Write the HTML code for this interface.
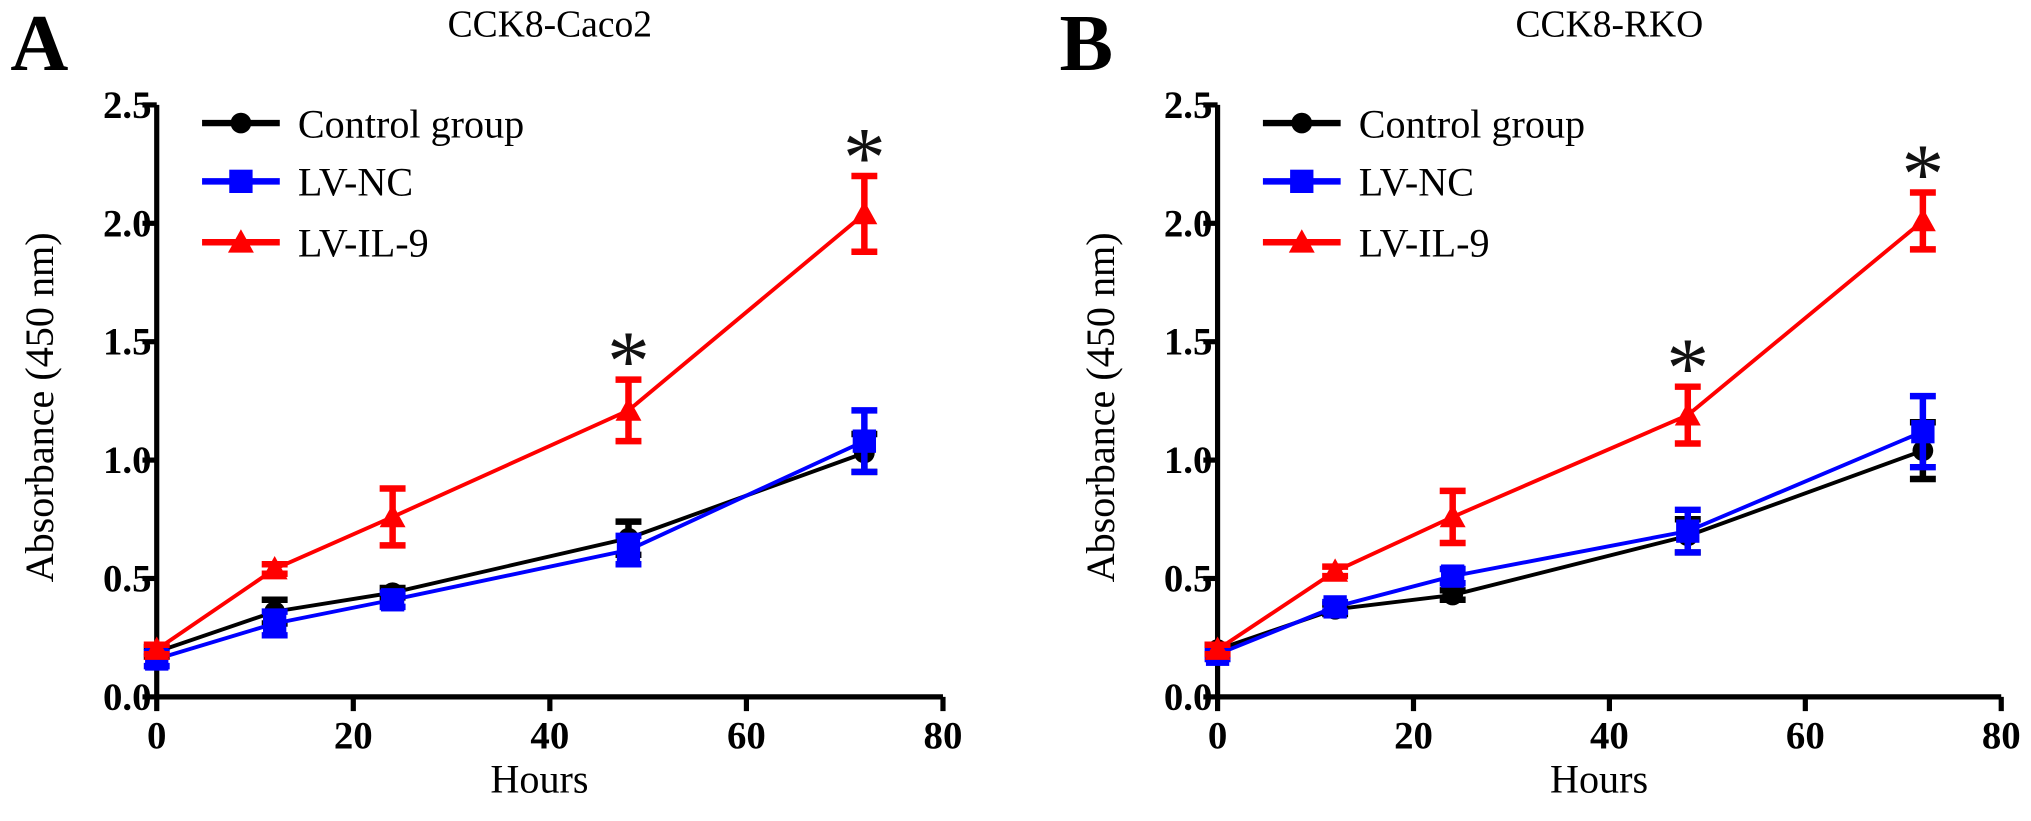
<!DOCTYPE html>
<html><head><meta charset="utf-8"><style>
html,body{margin:0;padding:0;background:#fff;}
svg text{font-family:"Liberation Serif",serif;}
</style></head><body>
<svg id="chart" width="2031" height="816" xmlns="http://www.w3.org/2000/svg"><g id="root" transform="scale(1.2953)"></g></svg>
<script>
const hours = [0, 12, 24, 48, 72];
const xTicks = [0, 20, 40, 60, 80];
const yTicks = [0.0, 0.5, 1.0, 1.5, 2.0, 2.5];
const seriesNames = ["Control group", "LV-NC", "LV-IL-9"];
const aControl = [0.19, 0.36, 0.44, 0.67, 1.03];
const aControlErr = [0.02, 0.05, 0.02, 0.07, 0.08];
const aNC = [0.16, 0.31, 0.41, 0.62, 1.08];
const aNCErr = [0.03, 0.05, 0.03, 0.06, 0.13];
const aIL9 = [0.20, 0.54, 0.76, 1.21, 2.04];
const aIL9Err = [0.02, 0.02, 0.12, 0.13, 0.16];
const bControl = [0.20, 0.37, 0.43, 0.68, 1.04];
const bControlErr = [0.02, 0.02, 0.02, 0.07, 0.12];
const bNC = [0.18, 0.38, 0.51, 0.70, 1.12];
const bNCErr = [0.02, 0.02, 0.03, 0.09, 0.15];
const bIL9 = [0.20, 0.53, 0.76, 1.19, 2.01];
const bIL9Err = [0.02, 0.02, 0.11, 0.12, 0.12];
const starHours = [48, 72];

const NS = "http://www.w3.org/2000/svg";
const svg = document.getElementById('root');
function mk(tag, attrs, parent) {
  const e = document.createElementNS(NS, tag);
  for (const k in attrs) e.setAttribute(k, attrs[k]);
  (parent || svg).appendChild(e);
  return e;
}
const colors = ["#000000", "#0000ff", "#ff0000"];

function panel(opt) {
  const g = mk('g', {});
  
  
  const x0 = opt.x0, x1 = opt.x1, yB = 538, yT = 81;
  const sx = v => x0 + (v - 0) / 80 * (x1 - x0);
  const sy = v => yB - v / 2.5 * (yB - yT);

  const letter = mk('text', {x: opt.lx, y: 54, 'font-size': 62, 'font-weight': 'bold'}, g);
  letter.textContent = opt.key.toUpperCase();
  
  
  const title = mk('text', {x: (x0 + x1) / 2, y: 28, 'font-size': 29, 'text-anchor': 'middle'}, g);
  title.textContent = opt.title;
  
  

  const ax = mk('path', {d: `M${x0},${yT} V${yB} H${x1}`, stroke: '#000', 'stroke-width': 4, fill: 'none'}, g);
  
  
  yTicks.forEach(t => {
    const y = sy(t);
    mk('line', {x1: x0 - 11, x2: x0, y1: y, y2: y, stroke: '#000', 'stroke-width': 4}, g);
    const tl = mk('text', {x: x0 - 4, y: y + 10, 'font-size': 30, 'font-weight': 'bold', 'text-anchor': 'end'}, g);
    tl.textContent = t.toFixed(1);
    
    
  });
  xTicks.forEach(t => {
    const x = sx(t);
    mk('line', {x1: x, x2: x, y1: yB, y2: yB + 11, stroke: '#000', 'stroke-width': 4}, g);
    const tl = mk('text', {x: x, y: yB + 40, 'font-size': 30, 'font-weight': 'bold', 'text-anchor': 'middle'}, g);
    tl.textContent = t;
    
    
  });
  const xl = mk('text', {x: (x0 + x1) / 2 - 8, y: 612, 'font-size': 31, 'text-anchor': 'middle'}, g);
  xl.textContent = 'Hours';
  
  
  const yl = mk('text', {x: 0, y: 0, 'font-size': 31, 'text-anchor': 'middle', transform: `translate(${x0 - 80},${(yT + yB) / 2 + 5}) rotate(-90)`}, g);
  yl.textContent = 'Absorbance (450 nm)';
  
  

  function marker(type, x, y, c, parent) {
    if (type === 0) return mk('circle', {cx: x, cy: y, r: 8, fill: c}, parent);
    if (type === 1) return mk('rect', {x: x - 9, y: y - 9, width: 18, height: 18, fill: c}, parent);
    return mk('path', {d: `M${x},${y - 10} L${x + 10},${y + 8} L${x - 10},${y + 8} Z`, fill: c}, parent);
  }

  opt.series.forEach((s, si) => {
    const c = colors[si];
    const sg = mk('g', {}, g);
    
    
    const pts = hours.map((h, i) => `${sx(h)},${sy(s.v[i])}`).join(' ');
    mk('polyline', {points: pts, fill: 'none', stroke: c, 'stroke-width': 3}, sg);
    hours.forEach((h, i) => {
      const x = sx(h), yh = sy(s.v[i] + s.e[i]), yl2 = sy(s.v[i] - s.e[i]);
      const eb = mk('path', {d: `M${x},${yh} V${yl2} M${x - 10},${yh} H${x + 10} M${x - 10},${yl2} H${x + 10}`, stroke: c, 'stroke-width': 5, fill: 'none'}, sg);
      
      
      const m = marker(si, x, sy(s.v[i]), c, sg);
      
      
    });
  });

  const il = opt.series[2];
  starHours.forEach(h => {
    const i = hours.indexOf(h);
    const st = mk('text', {x: sx(h), y: sy(il.v[i] + il.e[i]) + 8, 'font-size': 66, 'text-anchor': 'middle', fill: '#111'}, g);
    st.textContent = '*';
    
    
  });

  const lg = mk('g', {}, g);
  
  
  const lx = x0 + 35, rows = [95, 140, 187];
  seriesNames.forEach((n, si) => {
    const eg = mk('g', {}, lg);
    
    
    mk('line', {x1: lx, x2: lx + 60, y1: rows[si], y2: rows[si], stroke: colors[si], 'stroke-width': 5}, eg);
    marker(si, lx + 30, rows[si], colors[si], eg);
    const t = mk('text', {x: lx + 74, y: rows[si] + 11, 'font-size': 31}, eg);
    t.textContent = n;
  });
}

panel({key: 'a', title: 'CCK8-Caco2', x0: 121, x1: 728, lx: 8,
  series: [{v: aControl, e: aControlErr}, {v: aNC, e: aNCErr}, {v: aIL9, e: aIL9Err}]});
panel({key: 'b', title: 'CCK8-RKO', x0: 940, x1: 1545, lx: 818,
  series: [{v: bControl, e: bControlErr}, {v: bNC, e: bNCErr}, {v: bIL9, e: bIL9Err}]});
</script>
</body></html>
